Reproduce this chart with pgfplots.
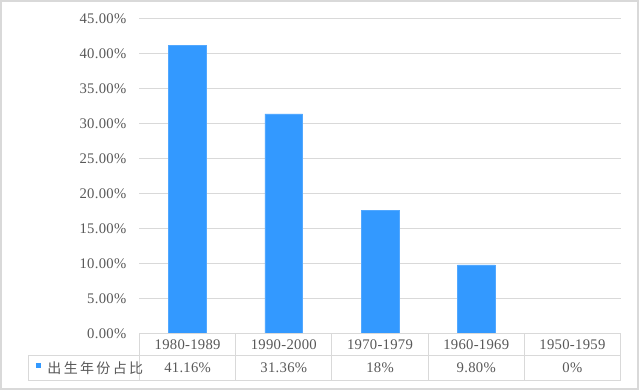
\documentclass[border=0pt]{standalone}
\usepackage{pgfplots}
\pgfplotsset{compat=1.18}
\usepackage{fontspec}
\setmainfont[LetterSpace=2]{Liberation Serif}
\newfontfamily\cjk{Noto Sans CJK SC}
\definecolor{barblue}{RGB}{51,153,255}
\definecolor{gridgray}{RGB}{217,217,217}
\definecolor{txtgray}{RGB}{89,89,89}
\begin{document}
\begin{tikzpicture}[font=\fontsize{11}{13}\selectfont, every node/.style={text=txtgray}]
\begin{scope}[x=0.75pt,y=0.75pt]
\useasboundingbox (-139.5,-56.5) rectangle (499.5,333.5);
\fill[white] (-139.5,-56.5) rectangle (499.5,333.5);
\draw[gridgray, line width=1.5pt] (-138.5,-55.5) rectangle (498.5,332.5);
\end{scope}
\begin{axis}[
  at={(0,0)}, anchor=south west,
  scale only axis, width=360.75pt, height=236.4pt,
  ybar, bar width=28.3pt,
  xmin=-0.5, xmax=4.5, ymin=0, ymax=45,
  axis line style={draw=none},
  ytick={0,5,...,45},
  ymajorgrids, grid style={gridgray, line width=0.75pt},
  major tick length=0pt,
  /pgf/number format/assume math mode=true,
  yticklabel={\pgfmathprintnumber[fixed,fixed zerofill,precision=2]{\tick}\%},
  yticklabel style={anchor=east, inner sep=0pt, xshift=-9.75pt, text=txtgray},
  xtick={0,1,2,3,4},
  xticklabels={1980-1989,1990-2000,1970-1979,1960-1969,1950-1959},
  xticklabel style={anchor=center, inner sep=0pt, yshift=-8.06pt, text=txtgray},
  clip=false,
]
\addplot[fill=barblue, draw=barblue!85!white] coordinates {(0,41.16) (1,31.36) (2,17.53) (3,9.80) (4,0)};
\end{axis}
\begin{scope}[x=0.75pt,y=0.75pt, gridgray, line width=0.75pt]
\draw (0,0) -- (481,0);
\draw (-110.5,-21.5) -- (481,-21.5);
\draw (-110.5,-47) -- (481,-47);
\draw (-110.5,-21.5) -- (-110.5,-47);
\foreach \i in {0,1,2,3,4,5} { \draw (\i*96.2,0) -- (\i*96.2,-47); }
\fill[barblue] (-103.5,-29.5) rectangle (-98.5,-34.5);
\node[anchor=west, inner sep=0pt, text=txtgray] at (-92.5,-34.25) {\cjk\fontsize{10.5}{12}\selectfont 出\,生\,年\,份\,占\,比};
\node[text=txtgray] at (48.1,-34.25) {41.16\%};
\node[text=txtgray] at (144.3,-34.25) {31.36\%};
\node[text=txtgray] at (240.5,-34.25) {18\%};
\node[text=txtgray] at (336.7,-34.25) {9.80\%};
\node[text=txtgray] at (432.9,-34.25) {0\%};
\end{scope}
\end{tikzpicture}
\end{document}
